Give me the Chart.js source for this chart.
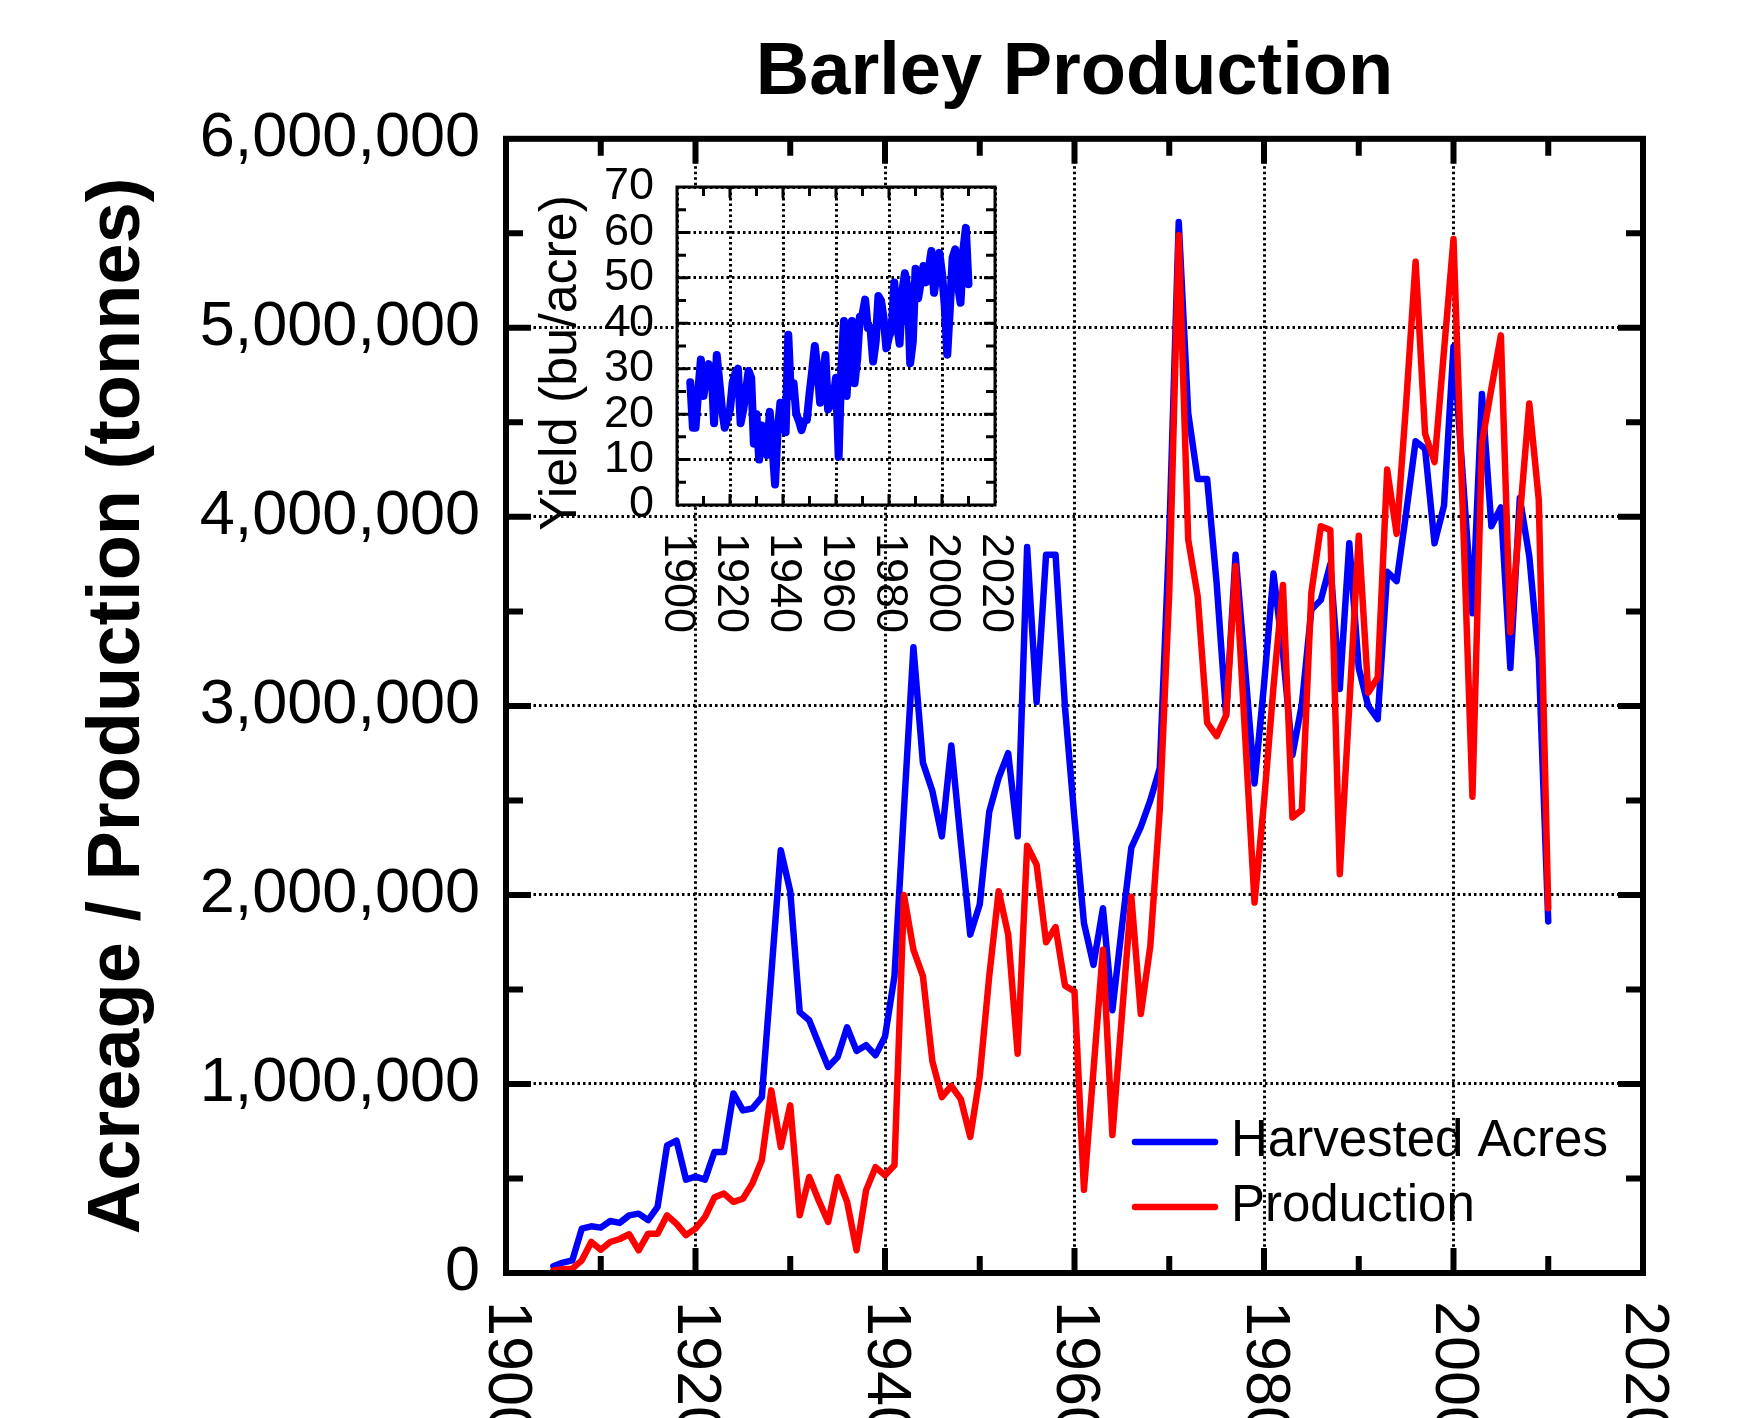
<!DOCTYPE html>
<html lang="en">
<head>
<meta charset="UTF-8">
<title>Barley Production</title>
<script src="https://cdn.jsdelivr.net/npm/chart.js"></script>
<style>
  html, body { margin: 0; padding: 0; background: #fff; overflow: hidden; }
  #wrap { position: relative; width: 1743px; height: 1418px; }
  #main { position: absolute; left: 0; top: 0; }
  #inset { position: absolute; left: 480px; top: 137px; }
</style>
</head>
<body>
<div id="wrap">
  <canvas id="main" width="1743" height="1418"></canvas>
  <canvas id="inset" width="540" height="513"></canvas>
</div>
<script>
// yearly series, 1905 .. 2010
const firstYear = 1905;

const acres = [
  35000, 55000, 67000, 235000, 247000, 240000, 275000, 265000, 305000, 314000,
  280000, 350000, 675000, 700000, 494000, 510000, 494000, 640000, 640000, 950000,
  860000, 870000, 930000, 1580000, 2236000, 2020000, 1380000, 1337000, 1213000, 1090000,
  1143000, 1300000, 1175000, 1205000, 1152000, 1250000, 1570000, 2450000, 3310000, 2700000,
  2550000, 2310000, 2790000, 2280000, 1790000, 1950000, 2440000, 2620000, 2750000, 2310000,
  3840000, 3020000, 3800000, 3800000, 2990000, 2400000, 1850000, 1630000, 1930000, 1390000,
  1830000, 2250000, 2360000, 2500000, 2670000, 3900000, 5560000, 4550000, 4200000, 4200000,
  3650000, 2950000, 3800000, 3200000, 2590000, 3110000, 3700000, 3280000, 2740000, 3010000,
  3510000, 3560000, 3750000, 3090000, 3860000, 3200000, 3000000, 2930000, 3710000, 3660000,
  4020000, 4400000, 4360000, 3860000, 4060000, 4900000, 4200000, 3490000, 4650000, 3950000,
  4050000, 3200000, 4100000, 3790000, 3250000, 1860000
];

const production = [
  14000, 20000, 23000, 67000, 164000, 123000, 164000, 180000, 205000, 120000,
  208000, 208000, 305000, 260000, 200000, 235000, 296000, 400000, 420000, 376000,
  393000, 473000, 596000, 966000, 667000, 887000, 305000, 508000, 384000, 270000,
  508000, 376000, 120000, 437000, 560000, 517000, 570000, 2000000, 1710000, 1570000,
  1120000, 930000, 990000, 920000, 720000, 1040000, 1570000, 2020000, 1790000, 1160000,
  2260000, 2160000, 1750000, 1830000, 1520000, 1490000, 440000, 1070000, 1710000, 730000,
  1360000, 1990000, 1370000, 1730000, 2450000, 3600000, 5490000, 3880000, 3580000, 2910000,
  2840000, 2950000, 3740000, 2850000, 1960000, 2490000, 3100000, 3640000, 2410000, 2450000,
  3600000, 3950000, 3930000, 2110000, 3000000, 3900000, 3070000, 3150000, 4250000, 3910000,
  4600000, 5350000, 4440000, 4290000, 4880000, 5470000, 4000000, 2520000, 4390000, 4680000,
  4960000, 3390000, 4000000, 4600000, 4090000, 1930000
];

const yieldBu = [
  27, 17, 17, 25, 32, 24, 28, 31, 30, 18,
  33, 27, 21, 17, 19, 21, 27, 29, 30, 18,
  21, 25, 29.5, 28, 13.5, 20, 10, 17.5, 14.5, 11,
  20.5, 13, 4.5, 16.5, 22.5, 19, 16, 37.5, 24, 26.8,
  20, 18.5, 16.5, 18.5, 18.7, 24.5, 29.5, 35, 30, 22.5,
  27, 33, 21, 22, 23.5, 28, 10.6, 30, 40.5, 24,
  34, 40.5, 26.8, 32, 41.5, 42, 45.2, 39, 39, 31.6,
  36, 46, 45, 41, 34.5, 37, 38.5, 49, 40, 35.5,
  47, 51, 48, 31.2, 36, 52, 45.5, 49, 52.6, 49,
  52, 55.9, 46.7, 51, 55.5, 51, 44, 33.1, 43.5, 54.5,
  56.3, 48.5, 44.5, 56, 61, 48.6
];

const years = acres.map((_, i) => firstYear + i);

// tick labels
const mainXTicks = [1900, 1920, 1940, 1960, 1980, 2000, 2020];
const mainYTicks = [0, 1000000, 2000000, 3000000, 4000000, 5000000, 6000000];
const insetXTicks = [1900, 1920, 1940, 1960, 1980, 2000, 2020];
const insetYTicks = [0, 10, 20, 30, 40, 50, 60, 70];

const FONT = "'Liberation Sans', Arial, Helvetica, sans-serif";
Chart.defaults.font.family = FONT;
Chart.defaults.color = '#000';

const commas = v => String(v).replace(/\B(?=(\d{3})+(?!\d))/g, ',');
const toPoints = vals => vals.map((v, i) => ({x: years[i], y: v}));

// box, inward ticks on all sides, rotated x labels
function framePlugin(id, o) {
  return {
    id,
    beforeDraw(chart) {
      if (!o.whiteBg) return;
      const a = chart.chartArea;
      chart.ctx.save();
      chart.ctx.fillStyle = '#fff';
      chart.ctx.fillRect(a.left, a.top, a.right - a.left, a.bottom - a.top);
      chart.ctx.restore();
    },
    afterDatasetsDraw(chart) {
      const {ctx, chartArea: a, scales: {x, y}} = chart;
      ctx.save();
      ctx.strokeStyle = '#000';
      ctx.lineWidth = o.tickWidth;
      ctx.beginPath();
      for (let v = x.min + o.xMinor; v < x.max; v += o.xMinor) {
        const px = x.getPixelForValue(v);
        const len = (v - x.min) % o.xMajor === 0 ? o.majorLen : o.minorLen;
        ctx.moveTo(px, a.bottom); ctx.lineTo(px, a.bottom - len);
        ctx.moveTo(px, a.top); ctx.lineTo(px, a.top + len);
      }
      for (let v = y.min + o.yMinor; v < y.max; v += o.yMinor) {
        const py = y.getPixelForValue(v);
        const len = (v - y.min) % o.yMajor === 0 ? o.majorLen : o.minorLen;
        ctx.moveTo(a.left, py); ctx.lineTo(a.left + len, py);
        ctx.moveTo(a.right, py); ctx.lineTo(a.right - len, py);
      }
      ctx.stroke();
      ctx.lineWidth = o.frameWidth;
      ctx.strokeRect(a.left, a.top, a.right - a.left, a.bottom - a.top);

      ctx.fillStyle = '#000';
      ctx.font = o.labelSize + 'px ' + FONT;
      ctx.textAlign = 'left';
      ctx.textBaseline = 'middle';
      x.ticks.forEach(t => {
        ctx.save();
        ctx.translate(x.getPixelForValue(t.value), a.bottom + o.labelGap);
        ctx.rotate(Math.PI / 2);
        ctx.fillText(String(t.value), 0, 0);
        ctx.restore();
      });
      if (o.extra) o.extra(chart, ctx, a);
      ctx.restore();
    }
  };
}

// legend inside the plot, lower right
function drawLegend(chart, ctx, a) {
  ctx.font = '51px ' + FONT;
  ctx.textAlign = 'left';
  ctx.textBaseline = 'middle';
  ctx.lineWidth = 6.5;
  ctx.lineCap = 'round';
  chart.data.datasets.forEach((ds, i) => {
    const ly = a.bottom - 131 + i * 65;
    ctx.strokeStyle = ds.borderColor;
    ctx.beginPath();
    ctx.moveTo(a.right - 508, ly);
    ctx.lineTo(a.right - 428, ly);
    ctx.stroke();
    ctx.fillStyle = '#000';
    ctx.fillText(ds.label, a.right - 412, ly);
  });
}

function drawInsetTitle(chart, ctx, a) {
  ctx.font = '52px ' + FONT;
  ctx.textAlign = 'center';
  ctx.textBaseline = 'middle';
  ctx.fillStyle = '#000';
  ctx.translate(82, 226);
  ctx.rotate(-Math.PI / 2);
  ctx.fillText('Yield (bu/acre)', 0, 0);
}

const gridCommon = {color: '#000', lineWidth: 3, drawTicks: false};
const borderCommon = {display: false, dash: [2.5, 3]};

new Chart(document.getElementById('main'), {
  type: 'line',
  data: {
    datasets: [
      {label: 'Harvested Acres', data: toPoints(acres), borderColor: '#0000ff', borderWidth: 6.5,
       pointRadius: 0, borderJoinStyle: 'round', borderCapStyle: 'round', order: 2},
      {label: 'Production', data: toPoints(production), borderColor: '#ff0000', borderWidth: 6.5,
       pointRadius: 0, borderJoinStyle: 'round', borderCapStyle: 'round', order: 1}
    ]
  },
  options: {
    responsive: false,
    devicePixelRatio: 1,
    animation: false,
    events: [],
    layout: {padding: {left: 0, right: 100, top: 0, bottom: 0}},
    plugins: {
      legend: {display: false},
      tooltip: {enabled: false},
      title: {
        display: true, text: 'Barley Production', fullSize: false,
        font: {size: 74, weight: 'bold'}, color: '#000',
        padding: {top: 29, bottom: 21}
      }
    },
    scales: {
      x: {
        type: 'linear', min: 1900, max: 2020,
        afterBuildTicks: s => { s.ticks = mainXTicks.map(v => ({value: v})); },
        afterFit: s => { s.height = 145; },
        ticks: {display: false},
        grid: gridCommon,
        border: borderCommon
      },
      y: {
        type: 'linear', min: 0, max: 6000000,
        afterBuildTicks: s => { s.ticks = mainYTicks.map(v => ({value: v})); },
        afterFit: s => { s.width = 506; },
        ticks: {font: {size: 63}, padding: 26, autoSkip: false, callback: v => commas(v)},
        grid: gridCommon,
        border: borderCommon,
        title: {
          display: true, text: 'Acreage / Production (tonnes)',
          font: {size: 74, weight: 'bold'}, color: '#000',
          padding: {top: 74, bottom: 0}
        }
      }
    }
  },
  plugins: [framePlugin('mainFrame', {
    xMinor: 10, xMajor: 20, yMinor: 500000, yMajor: 1000000,
    majorLen: 25, minorLen: 17, tickWidth: 6, frameWidth: 6,
    labelSize: 63, labelGap: 28, extra: drawLegend
  })]
});

new Chart(document.getElementById('inset'), {
  type: 'line',
  data: {
    datasets: [
      {label: 'Yield', data: toPoints(yieldBu), borderColor: '#0000ff', borderWidth: 8,
       pointRadius: 0, borderJoinStyle: 'round', borderCapStyle: 'round'}
    ]
  },
  options: {
    responsive: false,
    devicePixelRatio: 1,
    animation: false,
    events: [],
    layout: {padding: {left: 0, right: 25, top: 50, bottom: 0}},
    plugins: {legend: {display: false}, tooltip: {enabled: false}},
    scales: {
      x: {
        type: 'linear', min: 1900, max: 2020,
        afterBuildTicks: s => { s.ticks = insetXTicks.map(v => ({value: v})); },
        afterFit: s => { s.height = 145; },
        ticks: {display: false},
        grid: gridCommon,
        border: borderCommon
      },
      y: {
        type: 'linear', min: 0, max: 70,
        afterBuildTicks: s => { s.ticks = insetYTicks.map(v => ({value: v})); },
        afterFit: s => { s.width = 197; },
        ticks: {font: {size: 45}, padding: 23, autoSkip: false},
        grid: gridCommon,
        border: borderCommon
      }
    }
  },
  plugins: [framePlugin('insetFrame', {
    xMinor: 10, xMajor: 20, yMinor: 5, yMajor: 10,
    majorLen: 11, minorLen: 9, tickWidth: 3, frameWidth: 3,
    labelSize: 45, labelGap: 28, whiteBg: true, extra: drawInsetTitle
  })]
});
</script>
</body>
</html>
